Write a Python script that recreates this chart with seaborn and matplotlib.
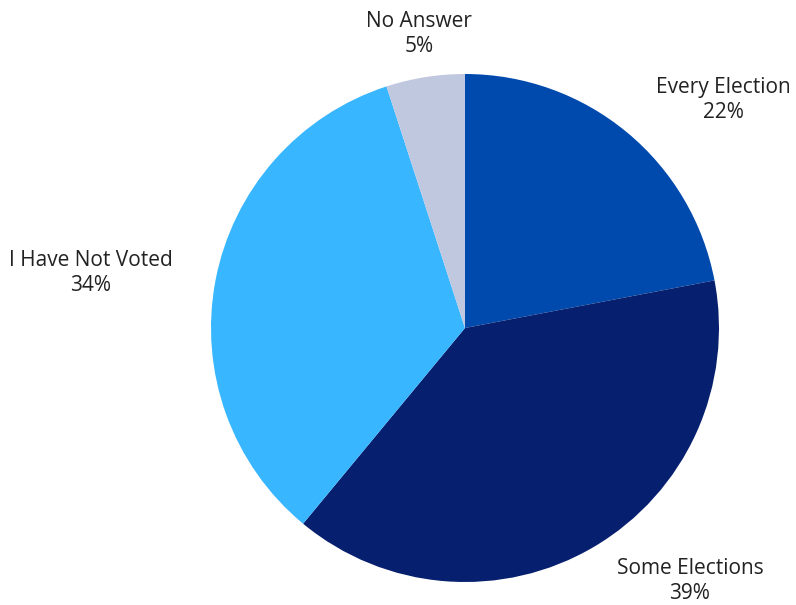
import matplotlib
matplotlib.use("Agg")
import matplotlib.pyplot as plt
import seaborn as sns

sns.set_theme(style="white")
plt.rcParams['font.family'] = ['Open Sans', 'DejaVu Sans']

# Data
categories = ['Every Election', 'Some Elections', 'I Have Not Voted', 'No Answer']
shares = [22, 39, 34, 5]
colors = ['#004AAD', '#061F6E', '#38B6FF', '#C0C8E0']

# label anchor positions in pixels (x, y from top)
label_pos = [(723, 100), (690, 581), (91, 273), (419, 34)]

W, H = 796, 605
fig = plt.figure(figsize=(W / 100, H / 100), dpi=100)
ax = fig.add_axes([0, 0, 1, 1])

ax.pie(shares, colors=colors, startangle=90, counterclock=False,
       center=(465, H - 328), radius=254, frame=True,
       wedgeprops=dict(linewidth=0))
ax.set_xlim(0, W)
ax.set_ylim(0, H)
ax.set_aspect('equal')
ax.axis('off')

for name, val, (x, y) in zip(categories, shares, label_pos):
    ax.text(x, H - y, f"{name}\n{val}%", ha='center', va='center',
            fontsize=15, color='#222222', linespacing=1.3)

fig.savefig('out.png', dpi=100)
